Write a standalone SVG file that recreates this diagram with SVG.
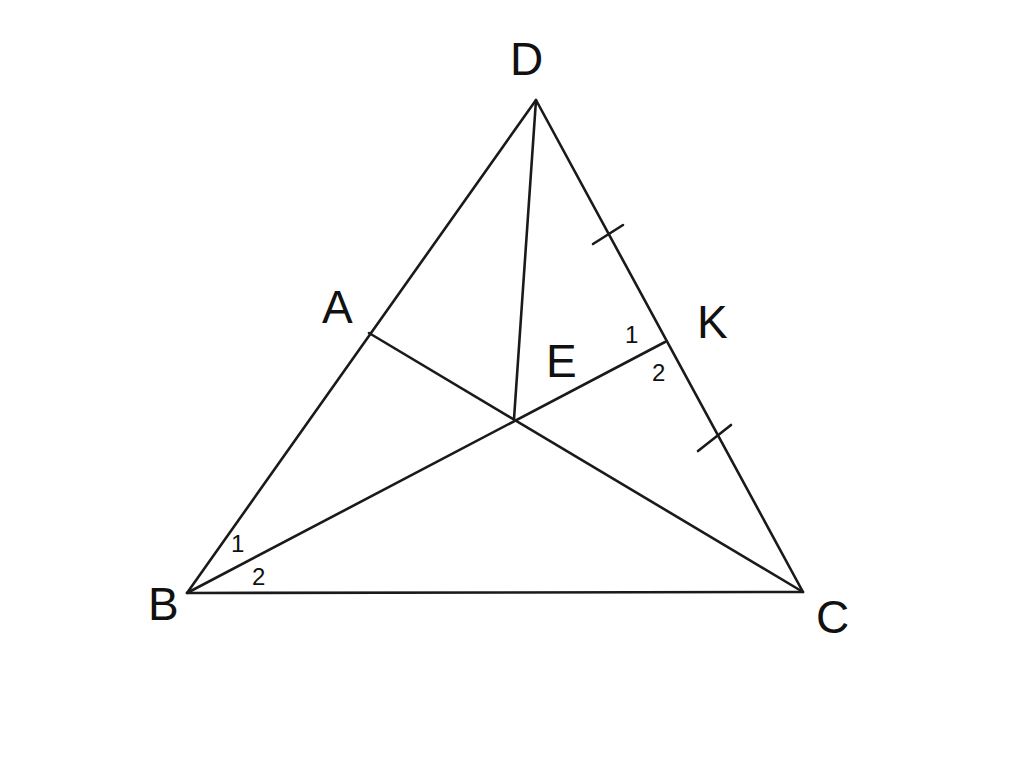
<svg xmlns="http://www.w3.org/2000/svg" width="1024" height="781" viewBox="0 0 1024 781">
<style>
.l{stroke:#1a1a1a;stroke-width:2.6;fill:none;stroke-linecap:round;stroke-linejoin:round}
.big{font-family:"Liberation Sans",Arial,sans-serif;font-size:46px;fill:#111}
.sm{font-family:"Liberation Sans",Arial,sans-serif;font-size:24px;fill:#111}
</style>
<rect width="1024" height="781" fill="#fff"/>
<g id="connectors">
<path class="l" d="M536,100 L187,593 L803,592 Z"/>
<line class="l" x1="536" y1="100" x2="514" y2="419"/>
<line class="l" x1="369" y1="333" x2="803" y2="592"/>
<line class="l" x1="187" y1="593" x2="665" y2="342"/>
<line class="l" x1="593" y1="244" x2="623" y2="225"/>
<line class="l" x1="698" y1="451" x2="731" y2="425"/>
</g>
<g id="D"><text class="big" x="510" y="75">D</text></g>
<g id="A"><text class="big" x="322" y="323">A</text></g>
<g id="K"><text class="big" x="697" y="338">K</text></g>
<g id="E"><text class="big" x="546" y="377">E</text></g>
<g id="B"><text class="big" x="148" y="620">B</text></g>
<g id="C"><text class="big" x="816" y="633">C</text></g>
<g id="angles">
<text class="sm" x="231" y="552">1</text>
<text class="sm" x="252" y="585">2</text>
<text class="sm" x="625" y="343">1</text>
<text class="sm" x="652" y="381">2</text>
</g>
</svg>
